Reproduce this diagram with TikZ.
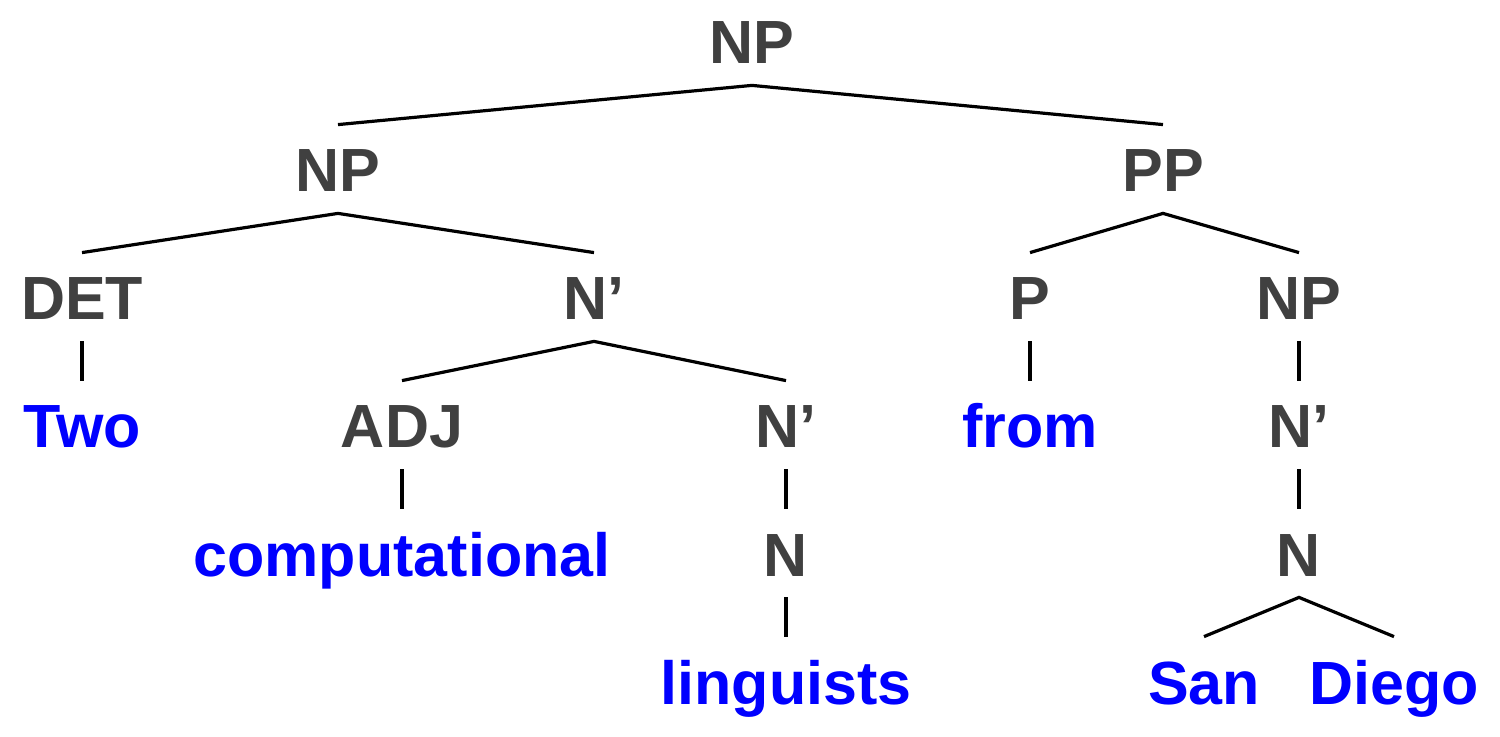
\documentclass[tikz,border=0pt]{standalone}
\usepackage{fontspec}
\setmainfont{Liberation Sans}
\definecolor{catgray}{RGB}{64,64,64}
\definecolor{wordblue}{RGB}{0,0,255}
\begin{document}
\begin{tikzpicture}[x=0.5pt,y=-0.5pt,
  lab/.style={font=\fontsize{30.5}{36}\selectfont\bfseries, inner sep=0pt,
    text height=33.5pt, text depth=10.5pt, anchor=base},
  cat/.style={lab, text=catgray},
  word/.style={lab, text=wordblue},
  edge/.style={line width=1.6pt, black}]
\useasboundingbox (0,0) rectangle (1500,737);
% row 0
\node[cat] (np0) at (752,64) {NP};
% row 1
\node[cat] (np1) at (338,192) {NP};
\node[cat] (pp) at (1163,192) {PP};
% row 2
\node[cat] (det) at (82,320) {DET};
\node[cat] (nb1) at (594,320) {N’};
\node[cat] (p) at (1030,320) {P};
\node[cat] (np2) at (1299,320) {NP};
% row 3
\node[word] (two) at (82,448) {Two};
\node[cat] (adj) at (402,448) {ADJ};
\node[cat] (nb2) at (786,448) {N’};
\node[word] (from) at (1030,448) {from};
\node[cat] (nb3) at (1299,448) {N’};
% row 4
\node[word] (comp) at (402,576) {computational};
\node[cat] (n1) at (786,576) {N};
\node[cat] (n2) at (1299,576) {N};
% row 5
\node[word] (ling) at (786,704) {linguists};
\node[word] (san) at (1204,704) {San};
\node[word] (diego) at (1394,704) {Diego};
% edges
\draw[edge] (np1.north) -- (np0.south) -- (pp.north);
\draw[edge] (det.north) -- (np1.south) -- (nb1.north);
\draw[edge] (p.north) -- (pp.south) -- (np2.north);
\draw[edge] (det.south) -- (two.north);
\draw[edge] (adj.north) -- (nb1.south) -- (nb2.north);
\draw[edge] (p.south) -- (from.north);
\draw[edge] (np2.south) -- (nb3.north);
\draw[edge] (adj.south) -- (comp.north);
\draw[edge] (nb2.south) -- (n1.north);
\draw[edge] (nb3.south) -- (n2.north);
\draw[edge] (n1.south) -- (ling.north);
\draw[edge] (san.north) -- (n2.south) -- (diego.north);
\end{tikzpicture}
\end{document}
